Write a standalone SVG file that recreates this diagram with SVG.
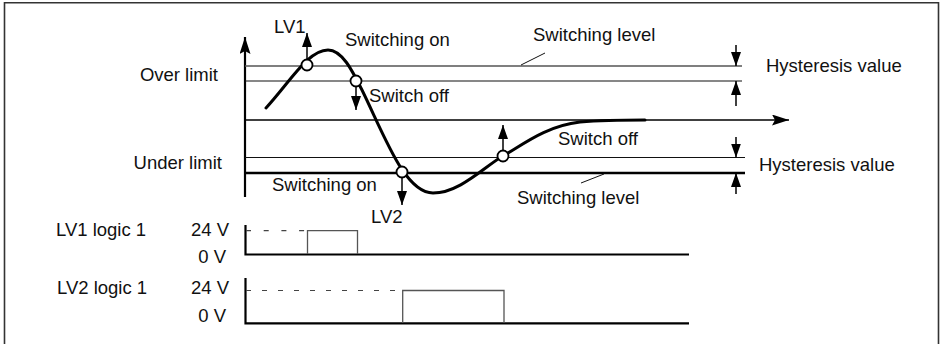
<svg xmlns="http://www.w3.org/2000/svg" width="941" height="344" viewBox="0 0 941 344">
<defs>
<style>
text{font-family:"Liberation Sans",Arial,Helvetica,sans-serif;font-size:18.5px;fill:#111}
.thin{stroke:#111;stroke-width:1.2;fill:none}
.gray{stroke:#555;stroke-width:1.3;fill:none}
.thick{stroke:#000;stroke-width:2.6;fill:none}
.axis{stroke:#000;stroke-width:2.2;fill:none}
.curve{stroke:#000;stroke-width:3;fill:none;stroke-linecap:round}
.pt{fill:#fff;stroke:#000;stroke-width:1.8}
.arr{stroke:#000;stroke-width:1.5;fill:none;marker-end:url(#ah)}
.lead{stroke:#111;stroke-width:1;fill:none}
</style>
<marker id="ah" markerUnits="userSpaceOnUse" viewBox="0 0 14 10" refX="14" refY="5" markerWidth="14" markerHeight="10" orient="auto"><path d="M0,0 L14,5 L0,10 z" fill="#000"/></marker>
<marker id="big" markerUnits="userSpaceOnUse" viewBox="0 0 17 11" refX="17" refY="5.5" markerWidth="17" markerHeight="11" orient="auto"><path d="M0,0 L17,5.5 L0,11 L3,5.5 z" fill="#000"/></marker>
</defs>
<path d="M4.5,346 V2.7 H938.5 V346" fill="none" stroke="#333" stroke-width="1.6"/>

<g id="connectors">
<line x1="245" y1="197" x2="245" y2="37" class="axis" marker-end="url(#big)"/>
<line x1="245" y1="120" x2="789" y2="120" stroke="#000" stroke-width="1.4" marker-end="url(#big)"/>
<line x1="245" y1="66" x2="742" y2="66" class="gray"/>
<line x1="245" y1="81" x2="742" y2="81" class="thin"/>
<line x1="245" y1="157.5" x2="745" y2="157.5" class="thin"/>
<line x1="245" y1="173" x2="745" y2="173" class="thick"/>
<line x1="521" y1="65" x2="545" y2="53" class="lead"/>
<line x1="581" y1="183" x2="604" y2="174" class="lead"/>
<line x1="736" y1="45" x2="736" y2="66" class="arr"/>
<line x1="736" y1="106" x2="736" y2="81" class="arr"/>
<line x1="736" y1="137" x2="736" y2="157.5" class="arr"/>
<line x1="736" y1="194" x2="736" y2="173" class="arr"/>
<path class="curve" d="M266,108 C290,82 308,50 328,50 C342,50 352,70 362,90 C385,137 405,193 433,193 C460,193 485,166 503,156 C521,146 545,126 580,122 C605,120 625,120 645,120"/>
<line x1="307" y1="59" x2="307" y2="33" class="arr"/>
<line x1="356" y1="87" x2="356" y2="110" class="arr"/>
<line x1="402" y1="177" x2="402" y2="205" class="arr"/>
<line x1="503" y1="150" x2="503" y2="125" class="arr"/>
</g>

<g id="point-lv1"><circle cx="307" cy="65" r="5.5" class="pt"/></g>
<g id="point-off1"><circle cx="356" cy="81" r="5.5" class="pt"/></g>
<g id="point-lv2"><circle cx="402" cy="172" r="5.5" class="pt"/></g>
<g id="point-off2"><circle cx="503" cy="156" r="5.5" class="pt"/></g>

<g id="labels">
<text x="218" y="81" text-anchor="end">Over limit</text>
<text x="222" y="169" text-anchor="end">Under limit</text>
<text x="274" y="33">LV1</text>
<text x="345" y="46">Switching on</text>
<text x="369" y="102">Switch off</text>
<text x="533" y="41">Switching level</text>
<text x="766" y="72">Hysteresis value</text>
<text x="759" y="171">Hysteresis value</text>
<text x="272" y="191">Switching on</text>
<text x="371" y="223">LV2</text>
<text x="558" y="145">Switch off</text>
<text x="517" y="204">Switching level</text>
</g>

<g id="lv1-logic">
<text x="56" y="236">LV1 logic 1</text>
<text x="229" y="236" text-anchor="end">24 V</text>
<text x="226" y="263" text-anchor="end">0 V</text>
<path d="M245.5,225 V254.5 H689" class="axis"/>
<line x1="246" y1="230.7" x2="307" y2="230.7" stroke="#444" stroke-width="1.2" stroke-dasharray="5,12.7"/>
<path d="M307.5,254 V230.7 H357.5 V254" class="gray"/>
</g>

<g id="lv2-logic">
<text x="57" y="294">LV2 logic 1</text>
<text x="229" y="294" text-anchor="end">24 V</text>
<text x="226" y="322" text-anchor="end">0 V</text>
<path d="M245.5,278 V323.3 H689" class="axis"/>
<line x1="246" y1="290.5" x2="412" y2="290.5" stroke="#444" stroke-width="1.2" stroke-dasharray="5,11"/>
<path d="M402.7,323 V290.5 H504 V323" class="gray"/>
</g>
</svg>
